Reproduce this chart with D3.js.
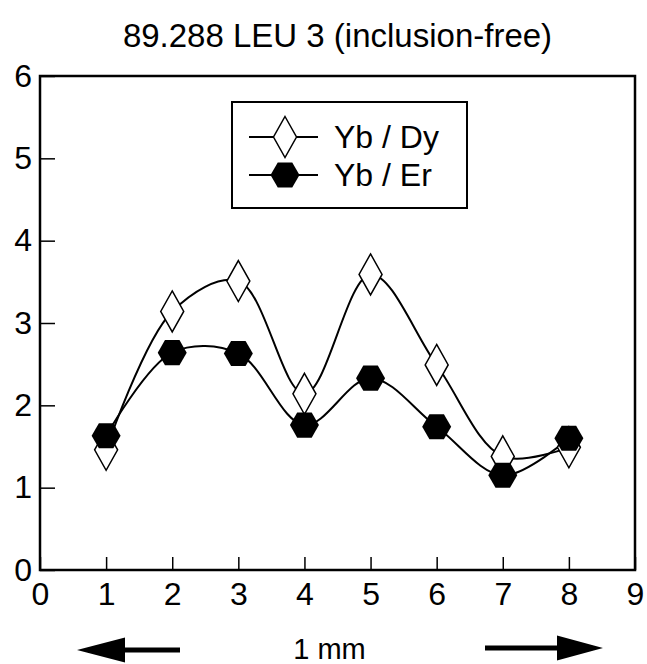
<!DOCTYPE html>
<html>
<head>
<meta charset="utf-8">
<script src="https://cdn.jsdelivr.net/npm/d3@7"></script>
<style>
  body { margin: 0; background: #fff; }
  svg text { font-family: "Liberation Sans", Arial, Helvetica, sans-serif; fill: #000; }
</style>
</head>
<body>
<div id="app"></div>
<script>
// values
const positions = [1, 2, 3, 4, 5, 6, 7, 8];
const ybDy = [1.46, 3.14, 3.51, 2.14, 3.59, 2.49, 1.38, 1.49];
const ybEr = [1.63, 2.64, 2.63, 1.76, 2.33, 1.74, 1.15, 1.60];
const seriesNames = ["Yb / Dy", "Yb / Er"];
const xTicks = [0, 1, 2, 3, 4, 5, 6, 7, 8, 9];
const yTicks = [0, 1, 2, 3, 4, 5, 6];
const title = "89.288 LEU 3 (inclusion-free)";
const scaleLabel = "1 mm";

let width = 647,
    height = 664;

const margin = {top: 76, right: 12, bottom: 94, left: 40};
const plotW = width - margin.left - margin.right,
      plotH = height - margin.top - margin.bottom;

const x = d3.scaleLinear().domain([0, 9]).range([0, plotW]);
const y = d3.scaleLinear().domain([0, 6]).range([plotH, 0]);

//marker shapes
const diamondPath = (hw, hh) => `M0,${-hh}L${hw},0L0,${hh}L${-hw},0Z`;
const hexPath = (r) => {
    let pts = [];
    for (let i = 0; i < 6; i++) {
        const a = i * Math.PI / 3;
        pts.push([r * Math.cos(a), r * Math.sin(a)]);
    }
    return "M" + pts.map(p => p.join(",")).join("L") + "Z";
};

const svg = d3.select("#app").append("svg")
    .attr("width", width)
    .attr("height", height);

svg.append("text")
    .attr("x", margin.left + plotW / 2)
    .attr("y", 47)
    .attr("text-anchor", "middle")
    .style("font-size", "33px")
    .text(title);

const g = svg.append("g")
    .attr("transform", "translate(" + margin.left + "," + margin.top + ")");

const xAxis = g.append("g")
    .attr("transform", "translate(0," + plotH + ")")
    .call(d3.axisBottom(x).tickValues(xTicks).tickFormat(d3.format("d")).tickSize(-13).tickPadding(12));

const yAxis = g.append("g")
    .call(d3.axisLeft(y).tickValues(yTicks).tickFormat(d3.format("d")).tickSize(-15).tickPadding(8));

[xAxis, yAxis].forEach(a => {
    a.select(".domain").remove();
    a.selectAll(".tick line").attr("stroke", "#000").attr("stroke-width", 1.5);
    a.selectAll(".tick text")
        .style("font-size", "32px")
        .style("font-family", "'Liberation Sans', Arial, Helvetica, sans-serif");
});

g.append("rect")
    .attr("width", plotW)
    .attr("height", plotH)
    .attr("fill", "none")
    .attr("stroke", "#000")
    .attr("stroke-width", 2.5);

const line = d3.line()
    .x((d, i) => x(positions[i]))
    .y(d => y(d))
    .curve(d3.curveCatmullRom.alpha(0.5));

[ybDy, ybEr].forEach(s => {
    g.append("path")
        .attr("d", line(s))
        .attr("fill", "none")
        .attr("stroke", "#000")
        .attr("stroke-width", 2);
});

g.selectAll(".dy").data(ybDy).enter().append("path")
    .attr("class", "dy")
    .attr("transform", (d, i) => "translate(" + x(positions[i]) + "," + y(d) + ")")
    .attr("d", diamondPath(11.5, 20.5))
    .attr("fill", "#fff")
    .attr("stroke", "#000")
    .attr("stroke-width", 1.5);

g.selectAll(".er").data(ybEr).enter().append("path")
    .attr("class", "er")
    .attr("transform", (d, i) => "translate(" + x(positions[i]) + "," + y(d) + ")")
    .attr("d", hexPath(14.5))
    .attr("fill", "#000");

// legend
const legend = svg.append("g");
legend.append("rect")
    .attr("x", 232).attr("y", 102)
    .attr("width", 235).attr("height", 106)
    .attr("fill", "#fff")
    .attr("stroke", "#000")
    .attr("stroke-width", 2);

const legendRows = [137, 175];
seriesNames.forEach((name, i) => {
    const cy = legendRows[i];
    legend.append("line")
        .attr("x1", 249).attr("x2", 318)
        .attr("y1", cy).attr("y2", cy)
        .attr("stroke", "#000").attr("stroke-width", 2);
    legend.append("path")
        .attr("transform", "translate(285," + cy + ")")
        .attr("d", i === 0 ? diamondPath(11.5, 20.5) : hexPath(14.5))
        .attr("fill", i === 0 ? "#fff" : "#000")
        .attr("stroke", i === 0 ? "#000" : "none")
        .attr("stroke-width", 1.5);
    legend.append("text")
        .attr("x", 334)
        .attr("y", cy + 11)
        .style("font-size", "32px")
        .text(name);
});

// scale arrows under the axis
const arrows = svg.append("g");
arrows.append("path")
    .attr("d", "M77,650L125,637.5L125,647.5L180,647.5L180,652.5L125,652.5L125,662.5Z")
    .attr("fill", "#000");
arrows.append("path")
    .attr("d", "M603,648L557,635.5L557,645.5L485,645.5L485,650.5L557,650.5L557,660.5Z")
    .attr("fill", "#000");
arrows.append("text")
    .attr("x", margin.left + plotW / 2 - 8)
    .attr("y", 659)
    .attr("text-anchor", "middle")
    .style("font-size", "29px")
    .text(scaleLabel);
</script>
</body>
</html>
